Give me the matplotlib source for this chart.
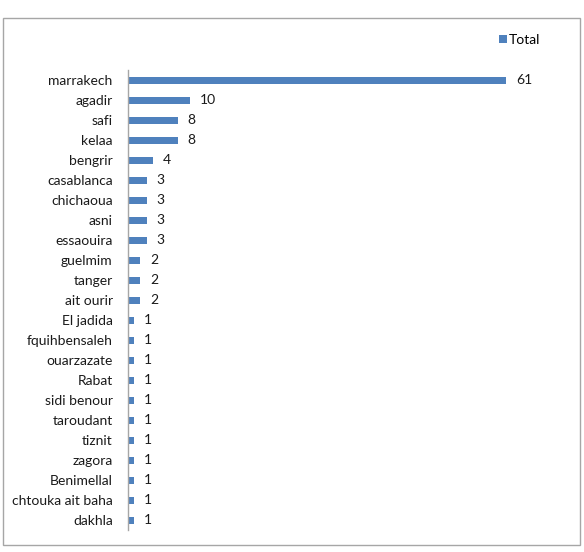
import matplotlib
matplotlib.use("Agg")
import matplotlib.pyplot as plt
from matplotlib.patches import Rectangle

categories = ["marrakech", "agadir", "safi", "kelaa", "bengrir", "casablanca",
              "chichaoua", "asni", "essaouira", "guelmim", "tanger", "ait ourir",
              "El jadida", "fquihbensaleh", "ouarzazate", "Rabat", "sidi benour",
              "taroudant", "tiznit", "zagora", "Benimellal", "chtouka ait baha", "dakhla"]
values = [61, 10, 8, 8, 4, 3, 3, 3, 3, 2, 2, 2, 1, 1, 1, 1, 1, 1, 1, 1, 1, 1, 1]
series_name = "Total"

plt.rcParams['font.family'] = ['Lato', 'DejaVu Sans']
W, H = 584, 552
fig = plt.figure(figsize=(W/100, H/100), dpi=100)
fig.patch.set_facecolor('white')

# outer border
fig.add_artist(Rectangle((3/W, 1 - 545/H), 577/W, (545-18)/H, transform=fig.transFigure,
                         fill=False, edgecolor='#a6a6a6', linewidth=1.0))

n = len(categories)
top_px, bot_px = 70, 530
ax = fig.add_axes([128/W, 1 - bot_px/H, (562-128)/W, (bot_px-top_px)/H])
color = '#4f81bd'
ypos = list(range(n))
bars = ax.barh(ypos, values, height=0.35, color=color, label=series_name)
ax.set_ylim(n - 0.5, -0.5)
ax.set_xlim(0, 70)
ax.set_yticks(ypos)
ax.set_yticklabels(categories, fontsize=10, color='#1a1a1a')
ax.tick_params(axis='y', length=0, pad=11)
ax.set_xticks([])
for s in ['top', 'right', 'bottom']:
    ax.spines[s].set_visible(False)
ax.spines['left'].set_color('#a6a6a6')
ax.spines['left'].set_linewidth(1.0)
for yy, v in zip(ypos, values):
    ax.annotate(str(v), (v, yy), xytext=(7, 0), textcoords='offset points',
                va='center', ha='left', fontsize=10, color='#1a1a1a')

fig.legend(handles=[bars], labels=[series_name], loc='center left',
           bbox_to_anchor=(499/W, 1 - 40/H), frameon=False, fontsize=10,
           handlelength=0.55, handleheight=0.55, handletextpad=0.15, borderaxespad=0,
           borderpad=0)

fig.savefig("out.png", dpi=100)
